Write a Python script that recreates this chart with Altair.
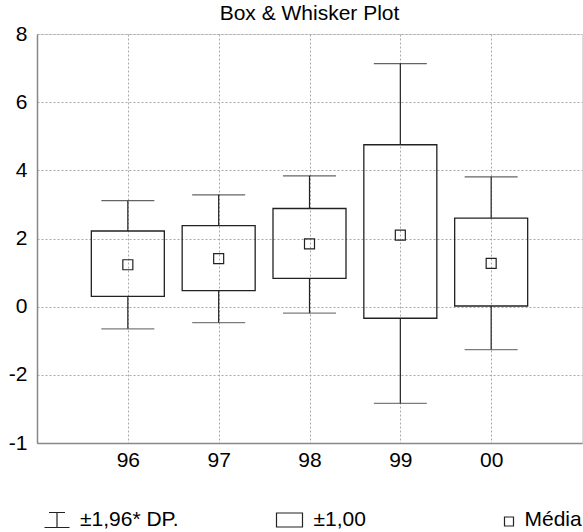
import altair as alt
import pandas as pd

anos = ["96", "97", "98", "99", "00"]
media = [1.23, 1.41, 1.84, 2.10, 1.27]
caixa_inf = [0.30, 0.47, 0.83, -0.34, 0.02]
caixa_sup = [2.22, 2.38, 2.88, 4.75, 2.60]
bigode_inf = [-0.65, -0.47, -0.19, -2.84, -1.26]
bigode_sup = [3.11, 3.28, 3.84, 7.13, 3.81]
y_ticks = [-4, -2, 0, 2, 4, 6, 8]
legenda = ["±1,96* DP.", "±1,00", "Média"]

FONT = "Liberation Sans"
INK = "#222222"

df = pd.DataFrame({
    "ano": anos, "media": media, "ci": caixa_inf, "cs": caixa_sup,
    "bi": bigode_inf, "bs": bigode_sup,
})

x_enc = alt.X(
    "ano:N", sort=anos,
    scale=alt.Scale(type="point", padding=1),
    axis=alt.Axis(title=None, labelAngle=0, labelFont=FONT, labelFontSize=21,
                  labelColor="black", labelPadding=6, ticks=False,
                  grid=True, gridColor="#a8a8a8", gridDash=[2, 2], gridWidth=1,
                  domainColor="#888888", domainWidth=1.5),
)
y_scale = alt.Scale(domain=[-4, 8], nice=False, zero=False)
y_axis = alt.Axis(title=None, values=y_ticks,
                  labelExpr="datum.value == -4 ? '-1' : '' + datum.value",
                  labelFont=FONT, labelFontSize=21, labelColor="black",
                  labelPadding=10, ticks=False,
                  grid=True, gridColor="#a8a8a8", gridDash=[2, 2], gridWidth=1,
                  domainColor="#888888", domainWidth=1.5)

base = alt.Chart(df)

rule_lo = base.mark_rule(color=INK, strokeWidth=1.2).encode(
    x=x_enc, y=alt.Y("bi:Q", scale=y_scale, axis=y_axis), y2="ci:Q")
rule_hi = base.mark_rule(color=INK, strokeWidth=1.2).encode(
    x=x_enc, y=alt.Y("cs:Q", scale=y_scale, axis=y_axis), y2="bs:Q")
cap_hi = base.mark_tick(color=INK, size=53, thickness=1.2, orient="horizontal").encode(
    x=x_enc, y=alt.Y("bs:Q", scale=y_scale, axis=y_axis))
cap_lo = base.mark_tick(color="#444444", size=53, thickness=1.2, orient="horizontal").encode(
    x=x_enc, y=alt.Y("bi:Q", scale=y_scale, axis=y_axis))
box = base.mark_bar(size=73, fill="transparent", stroke=INK, strokeWidth=1.3).encode(
    x=x_enc, y=alt.Y("ci:Q", scale=y_scale, axis=y_axis), y2="cs:Q")
mean = base.mark_square(size=100, filled=False, color=INK, strokeWidth=1.2, opacity=1).encode(
    x=x_enc, y=alt.Y("media:Q", scale=y_scale, axis=y_axis))

# legend icons (custom symbol paths, unit = sqrt(size)/2 px)
paths = [
    "M-0.8,-0.75L0.8,-0.75M0,-0.75L0,0.75M-1.25,0.75L1.25,0.75",
    "M-1.3,-0.7L1.3,-0.7L1.3,0.7L-1.3,0.7Z",
    "M-0.45,-0.3L0.45,-0.3L0.45,0.6L-0.45,0.6Z",
]
leg_x = [9, 241.5, 461]
leg_off = [12, 13, 4.5]
leg_y = 475

legend_layers = []
for i, lab in enumerate(legenda):
    d = pd.DataFrame({"item": [lab]})
    legend_layers.append(
        alt.Chart(d).mark_point(filled=False, color=INK, opacity=0).encode(
            shape=alt.Shape(
                "item:N",
                scale=alt.Scale(domain=[lab], range=[paths[i]]),
                legend=alt.Legend(
                    title=None, orient="none", legendX=leg_x[i], legendY=leg_y,
                    padding=0, labelFont=FONT, labelFontSize=21, labelColor="black",
                    labelOffset=leg_off[i], symbolSize=400, symbolStrokeWidth=1.2,
                    symbolOpacity=1, labelLimit=300,
                ),
            )
        )
    )

chart = alt.layer(rule_lo, rule_hi, cap_hi, cap_lo, box, mean, *legend_layers).resolve_scale(
    shape="independent"
).properties(
    width=545, height=409,
    title=alt.TitleParams("Box & Whisker Plot", font=FONT, fontSize=21, fontWeight="normal",
                          color="black", anchor="middle", baseline="alphabetic", offset=0,
                          dy=18),
    autosize=alt.AutoSizeParams(type="none"),
    padding={"left": 37, "top": 34, "right": 1, "bottom": 89},
).configure_view(stroke="black", strokeWidth=1).configure(background="white")

chart.save("out.html", embed_options={"renderer": "svg", "actions": False})
